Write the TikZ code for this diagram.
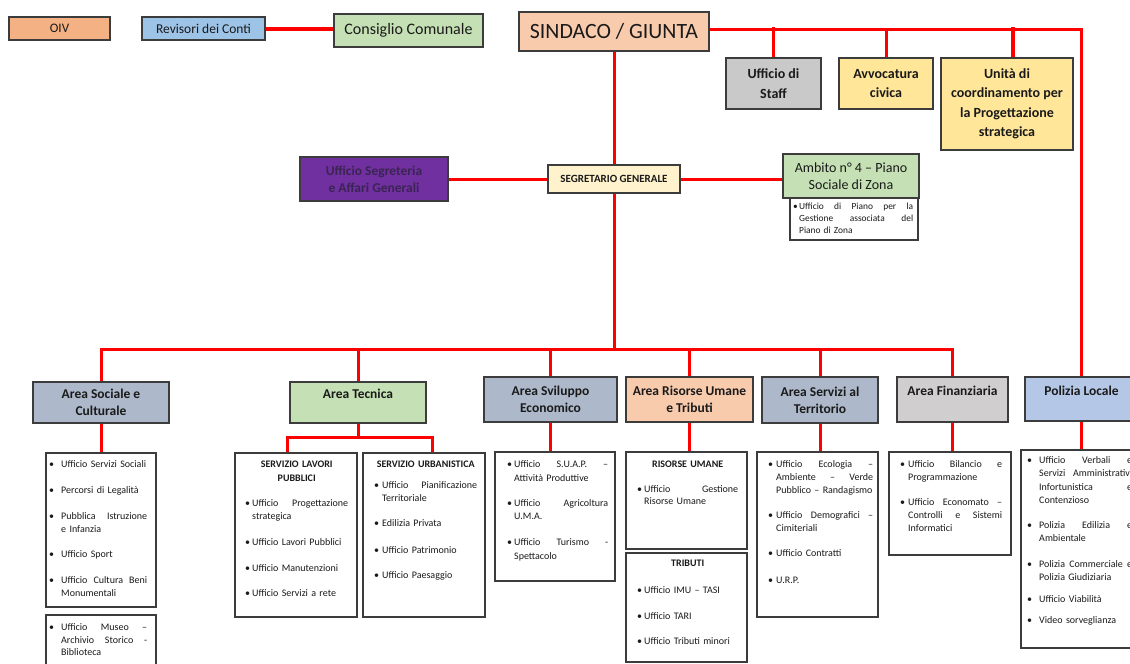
\documentclass[tikz,border=0pt]{standalone}
\usepackage{fontspec}
\setmainfont{Carlito}
\usetikzlibrary{backgrounds}
\definecolor{cRed}{HTML}{FF0000}
\definecolor{cBorder}{HTML}{3C3C3C}
\definecolor{cText}{HTML}{1A1A1A}
\definecolor{cOIV}{HTML}{F4B183}
\definecolor{cRev}{HTML}{9DC3E6}
\definecolor{cGreen}{HTML}{C5E0B4}
\definecolor{cPeach}{HTML}{F8CBAD}
\definecolor{cGray}{HTML}{C9C9C9}
\definecolor{cYel}{HTML}{FFE699}
\definecolor{cPurple}{HTML}{7030A0}
\definecolor{cPurpText}{HTML}{3B2454}
\definecolor{cCream}{HTML}{FFF2CC}
\definecolor{cSlate}{HTML}{ADB9CA}
\definecolor{cFin}{HTML}{D0CECE}
\definecolor{cPol}{HTML}{B4C7E7}
\tikzset{
  conn/.style={draw=cRed, line width=3pt, line cap=rect},
  bx/.style={draw=cBorder, line width=1.2pt, inner sep=0pt, align=center, text=cText},
  lbox/.style={draw=cBorder, line width=1.2pt, fill=white, inner sep=0pt},
  lst/.style={inner sep=0pt, text=cText},
  fA/.style={font=\fontsize{13.5}{17}\selectfont\bfseries},
  fU/.style={font=\fontsize{14}{19.5}\selectfont\bfseries},
}
\newcommand\BI{7pt}
\newcommand\jb[1]{\hbox to \dimexpr\hsize-\BI\relax{\spaceskip=\fontdimen2\font plus 1fil\relax#1}}
\newcommand\fj[1]{\makebox[\BI][l]{\textbullet}\jb{#1}}
\newcommand\fl[1]{\makebox[\BI][l]{\textbullet}#1}
\newcommand\cj[1]{\hspace*{\BI}\jb{#1}}
\newcommand\cl[1]{\hspace*{\BI}#1}
\newcommand\hc[1]{\makebox[\hsize][c]{#1}}
\newcommand\bxn[7]{%
  \pgfmathsetmacro\bxX{(#2+#4)/2}%
  \pgfmathsetmacro\bxY{(#3+#5)/2}%
  \pgfmathsetmacro\bxW{#4-#2}%
  \pgfmathsetmacro\bxH{#5-#3}%
  \node[#6, minimum width=\bxW pt, minimum height=\bxH pt] (#1) at (\bxX,\bxY) {#7};}
\newcommand\lst[7]{%
  \node[lst, font={#6}, text width=#4pt, anchor=base west] (#1) at (#2,#3) {\renewcommand\BI{#5pt}#7};}
\begin{document}
\begin{tikzpicture}[x=1pt,y=-1pt]
\useasboundingbox (0,0) rectangle (1130,664);
\clip (0,0) rectangle (1130,664);
% top row
\bxn{oiv}{9}{17}{110}{40}{bx,fill=cOIV,font=\fontsize{13}{15}\selectfont}{OIV}
\bxn{rev}{142}{17}{265}{40}{bx,fill=cRev,font=\fontsize{13.5}{15}\selectfont}{Revisori dei Conti}
\bxn{cons}{334}{14}{483}{47}{bx,fill=cGreen,font=\fontsize{16}{19}\selectfont}{Consiglio Comunale}
\bxn{sind}{519}{12}{709}{51}{bx,fill=cPeach,font=\fontsize{21.8}{25}\selectfont}{SINDACO / GIUNTA}
\bxn{staff}{726}{58}{821}{109}{bx,fill=cGray,fU}{Ufficio di\\Staff}
\bxn{avv}{839}{58}{933}{109}{bx,fill=cYel,fU}{Avvocatura\\civica}
\bxn{unita}{941}{58}{1073}{150}{bx,fill=cYel,fU}{Unità di\\coordinamento per\\la Progettazione\\strategica}
% middle row
\bxn{seg}{300}{157}{448}{201}{bx,fill=cPurple,text=cPurpText,font=\fontsize{13.5}{17}\selectfont\bfseries}{Ufficio Segreteria\\e Affari Generali}
\bxn{segr}{548}{165}{680}{193}{bx,fill=cCream,font=\fontsize{11}{13}\selectfont\bfseries}{SEGRETARIO GENERALE}
\bxn{amb}{783}{154}{919}{198}{bx,fill=cGreen,font=\fontsize{14}{16.5}\selectfont}{Ambito n° 4 – Piano\\Sociale di Zona}
\bxn{ambl}{790}{198}{918}{240}{lbox}{}
% areas
\bxn{soc}{33}{382}{169}{423}{bx,fill=cSlate,fA}{Area Sociale e\\Culturale}
\bxn{tec}{290}{382}{426}{423}{bx,fill=cGreen,fA}{Area Tecnica\\\phantom{A}}
\bxn{svi}{484}{377}{617}{422}{bx,fill=cSlate,fA}{Area Sviluppo\\Economico}
\bxn{ris}{626}{377}{753}{422}{bx,fill=cPeach,fA}{Area Risorse Umane\\e Tributi}
\bxn{ser}{762}{377}{878}{423}{bx,fill=cSlate,fA}{Area Servizi al\\Territorio}
\bxn{fin}{897}{377}{1008}{422}{bx,fill=cFin,fA}{Area Finanziaria\\\phantom{A}}
\bxn{pol}{1025}{377}{1138}{421}{bx,fill=cPol,fA}{Polizia Locale\\\phantom{A}}
% list boxes
\bxn{soc1}{46}{453}{156}{607}{lbox}{}
\bxn{soc2}{46}{615}{156}{668}{lbox}{}
\bxn{lav}{235}{453}{357}{617}{lbox}{}
\bxn{urb}{363}{453}{485}{617}{lbox}{}
\bxn{svil}{495}{452}{615}{581}{lbox}{}
\bxn{rum}{626}{452}{747}{549}{lbox}{}
\bxn{tri}{626}{553}{747}{662}{lbox}{}
\bxn{serl}{757}{452}{878}{617}{lbox}{}
\bxn{finl}{889}{452}{1011}{555}{lbox}{}
\bxn{poll}{1021}{450}{1145}{648}{lbox}{}
% list texts
\lst{ambt}{793}{209}{120}{6}{\fontsize{9.4}{12}\selectfont}{%
\fj{Ufficio di Piano per la}\\
\cj{Gestione associata del}\\
\cl{Piano di Zona}}
\lst{soc1t}{49}{467.5}{98}{12}{\fontsize{10}{13}\selectfont}{%
\fl{Ufficio Servizi Sociali}\\[13pt]
\fl{Percorsi di Legalità}\\[13pt]
\fj{Pubblica Istruzione}\\
\cl{e Infanzia}\\[12pt]
\fl{Ufficio Sport}\\[13pt]
\fj{Ufficio Cultura Beni}\\
\cl{Monumentali}}
\lst{soc2t}{49}{630.5}{98}{12}{\fontsize{10}{12.5}\selectfont}{%
\fj{Ufficio Museo –}\\
\cj{Archivio Storico -}\\
\cl{Biblioteca}}
\lst{lavt}{245}{467}{103}{7}{\fontsize{10}{13}\selectfont}{%
\hc{\bfseries SERVIZIO LAVORI}\\[1pt]
\hc{\bfseries PUBBLICI}\\[12.5pt]
\fj{Ufficio Progettazione}\\
\cl{strategica}\\[13pt]
\fl{Ufficio Lavori Pubblici}\\[13pt]
\fl{Ufficio Manutenzioni}\\[12pt]
\fl{Ufficio Servizi a rete}}
\lst{urbt}{374}{467}{103}{8}{\fontsize{10}{13}\selectfont}{%
\hc{\bfseries SERVIZIO URBANISTICA}\\[8.5pt]
\fj{Ufficio Pianificazione}\\
\cl{Territoriale}\\[12pt]
\fl{Edilizia Privata}\\[14pt]
\fl{Ufficio Patrimonio}\\[12pt]
\fl{Ufficio Paesaggio}}
\lst{svit}{507}{467.5}{101}{7}{\fontsize{10}{13.5}\selectfont}{%
\fj{Ufficio S.U.A.P. –}\\
\cl{Attività Produttive}\\[11.5pt]
\fj{Ufficio Agricoltura}\\
\cl{U.M.A.}\\[12.5pt]
\fj{Ufficio Turismo -}\\
\cl{Spettacolo}}
\lst{rumt}{637}{467}{101}{7}{\fontsize{10}{12}\selectfont}{%
\hc{\bfseries RISORSE UMANE}\\[13.5pt]
\fj{Ufficio Gestione}\\
\cl{Risorse Umane}}
\lst{trit}{637}{566.5}{101}{7}{\fontsize{10}{13}\selectfont}{%
\hc{\bfseries TRIBUTI}\\[14pt]
\fl{Ufficio IMU – TASI}\\[13pt]
\fl{Ufficio TARI}\\[12pt]
\fl{Ufficio Tributi minori}}
\lst{sert}{768}{467.5}{105}{8}{\fontsize{10}{13}\selectfont}{%
\fj{Ufficio Ecologia –}\\
\cj{Ambiente – Verde}\\
\cl{Pubblico – Randagismo}\\[12pt]
\fj{Ufficio Demografici –}\\
\cl{Cimiteriali}\\[12pt]
\fl{Ufficio Contratti}\\[14pt]
\fl{U.R.P.}}
\lst{fint}{900}{467.5}{102}{8}{\fontsize{10}{13}\selectfont}{%
\fj{Ufficio Bilancio e}\\
\cl{Programmazione}\\[12pt]
\fj{Ufficio Economato –}\\
\cj{Controlli e Sistemi}\\
\cl{Informatici}}
\lst{polt}{1027}{463.5}{105}{12}{\fontsize{10}{13.3}\selectfont}{%
\fj{Ufficio Verbali e}\\
\cj{Servizi Amministrativi}\\
\cj{Infortunistica e}\\
\cl{Contenzioso}\\[11.5pt]
\fj{Polizia Edilizia e}\\
\cl{Ambientale}\\[12.5pt]
\fj{Polizia Commerciale e}\\
\cl{Polizia Giudiziaria}\\[9pt]
\fl{Ufficio Viabilità}\\[7pt]
\fl{Video sorveglianza}}
% connectors
\begin{scope}[on background layer]
\fill[white] (0,0) rectangle (1130,664);
\coordinate (sl) at ([yshift=2.5pt]sind.east);
\draw[conn, line width=4pt] (rev.east) -- (rev.east -| cons.west);
\draw[conn] (sl) -| (pol.north);
\draw[conn, line width=3.5pt] (staff.north) -- (staff.north |- sl);
\draw[conn] (avv.north) -- (avv.north |- sl);
\draw[conn, line width=3.5pt] ([xshift=6pt]unita.north) -- ([xshift=6pt]unita.north |- sl);
\draw[conn] (sind.south) -- (segr.north);
\draw[conn] (seg.east) -- (segr.west);
\draw[conn] (segr.east) -- (segr.east -| amb.west);
\coordinate (bus) at (614,349);
\draw[conn] (segr.south) -- (bus);
\draw[conn] (soc.north |- bus) -- (fin.north |- bus);
\foreach \n in {soc,tec,svi,ris,ser,fin} \draw[conn] (\n.north) -- (\n.north |- bus);
\draw[conn] (soc.south) -- (soc1.north);
\coordinate (tL) at (287,437);
\coordinate (tR) at (432,437);
\draw[conn] (tec.south) -- (tec.south |- tL);
\draw[conn] (tL |- lav.north) -- (tL) -- (tR) -- (tR |- urb.north);
\draw[conn] (svi.south) -- (svi.south |- svil.north);
\draw[conn] (ris.south) -- (ris.south |- rum.north);
\draw[conn] (ser.south) -- (ser.south |- serl.north);
\draw[conn] (fin.south) -- (fin.south |- finl.north);
\draw[conn] (pol.south) -- (pol.south |- poll.north);
\end{scope}
\end{tikzpicture}
\end{document}
